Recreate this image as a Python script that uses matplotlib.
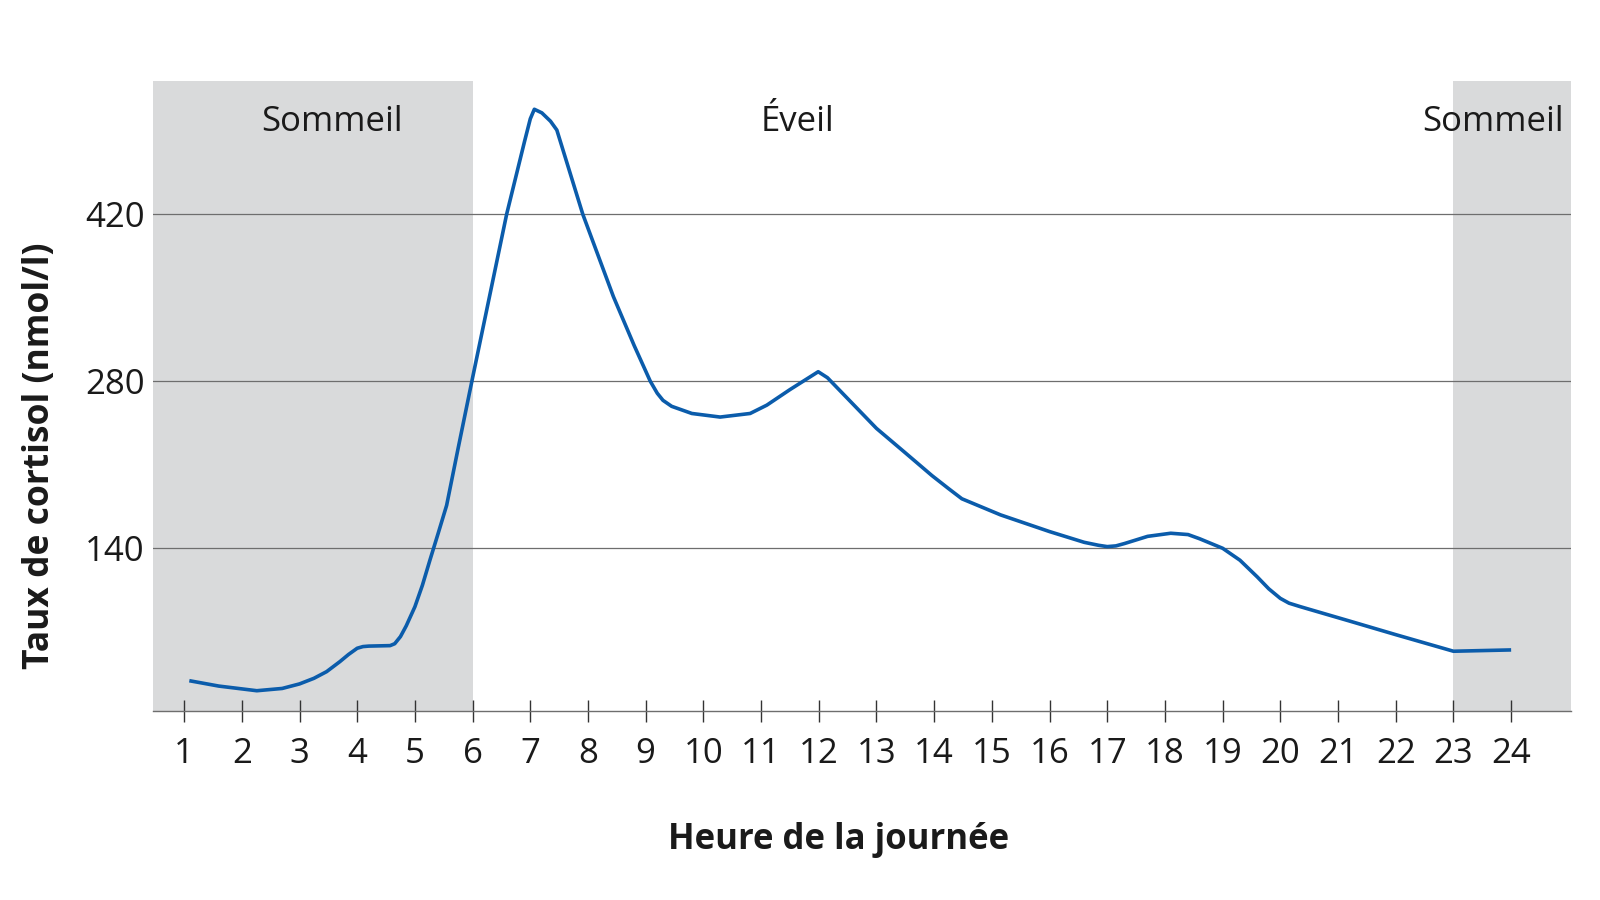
import matplotlib.pyplot as plt

plt.rcParams['font.family'] = ['Open Sans', 'DejaVu Sans']

# Cortisol level (hour of day, nmol/l)
hours = [1.09, 1.6, 2.26, 2.7, 3.0, 3.25, 3.47, 3.7, 3.85, 4.0, 4.1, 4.2, 4.57,
         4.65, 4.75, 4.85, 5.0, 5.13, 5.26, 5.4, 5.55, 5.75, 6.0, 6.59, 6.9,
         7.0, 7.07, 7.2, 7.35, 7.46, 7.91, 8.44, 8.8, 9.08, 9.2, 9.3, 9.45, 9.8,
         10.29, 10.81, 11.1, 11.5, 11.99, 12.15, 13.0, 13.5, 13.96, 14.25,
         14.48, 15.15, 16.0, 16.6, 16.85, 17.0, 17.15, 17.3, 17.7, 18.1, 18.4,
         18.6, 18.85, 19.0, 19.3, 19.6, 19.8, 20.0, 20.15, 20.35, 21.2, 22.0,
         23.0, 24.0]
cortisol = [29, 24.5, 20.6, 22.5, 26.3, 31, 36.6, 45, 51, 56.2, 57.6, 58, 58.4,
            60, 66, 75, 91, 109, 130, 152, 176, 224, 283, 420, 481,
            500, 508, 505, 498, 490.6, 420, 351, 310, 280, 270, 264, 259, 253,
            250, 253, 260, 273, 288, 283, 240.5, 220, 201, 190,
            181.5, 168, 154, 145, 142.5, 141.4, 142, 144, 150, 152.6, 151.5,
            148, 143, 140, 130, 116, 106, 98, 94, 91, 79, 67.6,
            53.7, 54.8]

tick_hours = list(range(1, 25))
y_ticks = [140, 280, 420]

sleep_periods = [(0.46, 6), (23, 25.03)]
phase_labels = ['Sommeil', 'Éveil', 'Sommeil']
phase_x = [3.56, 11.63, 24.92]
phase_ha = ['center', 'center', 'right']

fig = plt.figure(figsize=(16, 9), dpi=100)
ax = fig.add_axes([0.0956, 0.21, 0.886, 0.70])

for start, end in sleep_periods:
    ax.axvspan(start, end, color='#d9dadb', lw=0, zorder=0)

for v in y_ticks:
    ax.axhline(v, color='#6e6e6e', lw=0.9, zorder=1)

ax.plot(hours, cortisol, color='#0b5cab', lw=2.6, zorder=3,
        solid_joinstyle='round', solid_capstyle='butt')

for label, x, ha in zip(phase_labels, phase_x, phase_ha):
    ax.text(x, 490, label, ha=ha, va='baseline', fontsize=25, color='#1a1a1a')

ax.set_xlim(0.46, 25.03)
ax.set_ylim(3.6, 531.7)

ax.set_xticks(tick_hours)
ax.set_xticklabels([str(h) for h in tick_hours])
ax.set_yticks(y_ticks)
ax.set_yticklabels([str(v) for v in y_ticks])

ax.tick_params(axis='x', direction='inout', length=16, width=1, color='#333333',
               labelsize=25, pad=11, labelcolor='#1a1a1a')
ax.tick_params(axis='y', length=0, labelsize=25, pad=6, labelcolor='#1a1a1a')

for side in ['top', 'right', 'left']:
    ax.spines[side].set_visible(False)
ax.spines['bottom'].set_color('#6e6e6e')
ax.spines['bottom'].set_linewidth(1)

# axis titles sit off-centre in the reference, so place them by hand
fig.text(839 / 1600, 1 - 849 / 900, 'Heure de la journée', ha='center',
         va='baseline', fontsize=25, fontweight='bold', color='#1a1a1a')
fig.text(40 / 1600, 1 - 456 / 900, 'Taux de cortisol (nmol/l)', ha='center',
         va='center', rotation=90, fontsize=25.5, fontweight='bold', color='#1a1a1a')

fig.savefig('out.png', dpi=100)
